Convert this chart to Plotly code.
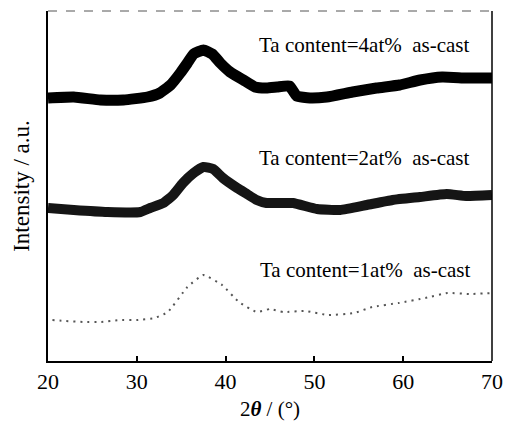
import plotly.graph_objects as go

# ---- data (intensity in arbitrary, offset units) ----
x_4at = [20, 22.9, 25.9, 28.5, 31.2, 32.6, 33.8, 34.9, 35.7, 36.4, 37.5, 38.5, 39.4, 40.5,
         42.0, 43.3, 44.6, 45.8, 47.2, 48.0, 49.5, 51.4, 54.3, 57.0, 59.6, 61.9, 64.4, 67.1, 70]
y_4at = [263, 264, 261, 261, 264, 268, 276, 288, 298, 307, 311, 307, 298, 289,
         281, 274, 273, 274, 275, 265, 263, 264, 269, 273, 276, 281, 284, 283, 283]

x_2at = [20, 22.9, 26.7, 30.4, 31.5, 33.0, 34.1, 35.2, 36.4, 37.5, 38.6, 39.7, 41.3, 42.4,
         43.5, 44.6, 46.1, 47.6, 50.3, 52.9, 55.9, 58.8, 61.9, 64.9, 67.1, 70]
y_2at = [153, 151, 149, 149, 153, 158, 166, 178, 188, 194, 192, 183, 173, 167,
         161, 158, 158, 158, 152, 151, 156, 161, 164, 167, 165, 166]

x_1at = [20.5, 22, 24, 26, 28, 30, 32, 33.5, 35.7, 37.5, 39.6, 41.5, 43.5, 45, 46.5,
         49, 51.5, 54.5, 56.5, 59.5, 62.5, 65, 67.5, 70]
y_1at = [41, 40, 39, 39, 41, 41, 43, 49, 74, 86, 76, 59, 49, 52, 49,
         50, 46, 48, 54, 58, 63, 68, 67, 68]

labels = ["Ta content=4at%\u00a0\u00a0as-cast",
          "Ta content=2at%\u00a0\u00a0as-cast",
          "Ta content=1at%\u00a0\u00a0as-cast"]
label_x = [55.6, 55.6, 55.7]
label_y = [316, 203, 91]

x_ticks = [20, 30, 40, 50, 60, 70]

FONT = "Liberation Serif, Times New Roman, serif"

fig = go.Figure()
fig.add_trace(go.Scatter(x=x_4at, y=y_4at, mode="lines",
                         line=dict(color="black", width=11, shape="spline", smoothing=0.4)))
fig.add_trace(go.Scatter(x=x_2at, y=y_2at, mode="lines",
                         line=dict(color="#151515", width=10, shape="spline", smoothing=0.4)))
fig.add_trace(go.Scatter(x=x_1at, y=y_1at, mode="lines",
                         line=dict(color="#555555", width=2, dash="2px,5px",
                                   shape="spline", smoothing=0.4)))

for t, xx, yy in zip(labels, label_x, label_y):
    fig.add_annotation(x=xx, y=yy, xref="x", yref="y", text=t, showarrow=False,
                       xanchor="center", yanchor="middle",
                       font=dict(family=FONT, size=21, color="black"))

# top (faint, broken) and right frame lines
fig.add_shape(type="line", xref="paper", yref="paper", x0=0, x1=1, y0=1, y1=1,
              line=dict(color="#555555", width=1, dash="dash"))
fig.add_shape(type="line", xref="paper", yref="paper", x0=1, x1=1, y0=0, y1=1,
              line=dict(color="black", width=1.5))

fig.update_layout(
    width=506, height=421,
    margin=dict(l=48, r=14, t=11, b=60, autoexpand=False),
    paper_bgcolor="white", plot_bgcolor="white",
    showlegend=False,
    font=dict(family=FONT, color="black"),
)
fig.update_xaxes(
    range=[20, 70], tickvals=x_ticks, ticktext=[str(v) for v in x_ticks],
    ticks="inside", ticklen=5, tickwidth=1.5, tickcolor="black",
    showline=True, linecolor="black", linewidth=2, showgrid=False, zeroline=False,
    automargin=False,
    tickfont=dict(family=FONT, size=22, color="black"),
    title=dict(text="2<b><i>θ</i></b> / (°)", font=dict(family=FONT, size=21, color="black"),
               standoff=8),
)
fig.update_yaxes(
    range=[0, 350], showticklabels=False, ticks="",
    showline=True, linecolor="black", linewidth=2, showgrid=False, zeroline=False,
    automargin=False,
    title=dict(text="Intensity / a.u.", font=dict(family=FONT, size=23, color="black"),
               standoff=10),
)

# remove the default 8px page margin so the 506x421 figure fills the window exactly
fig.write_html("out.html",
               config={"displayModeBar": False},
               post_script="document.body.style.margin='0';"
                           "document.body.style.overflow='hidden';")
